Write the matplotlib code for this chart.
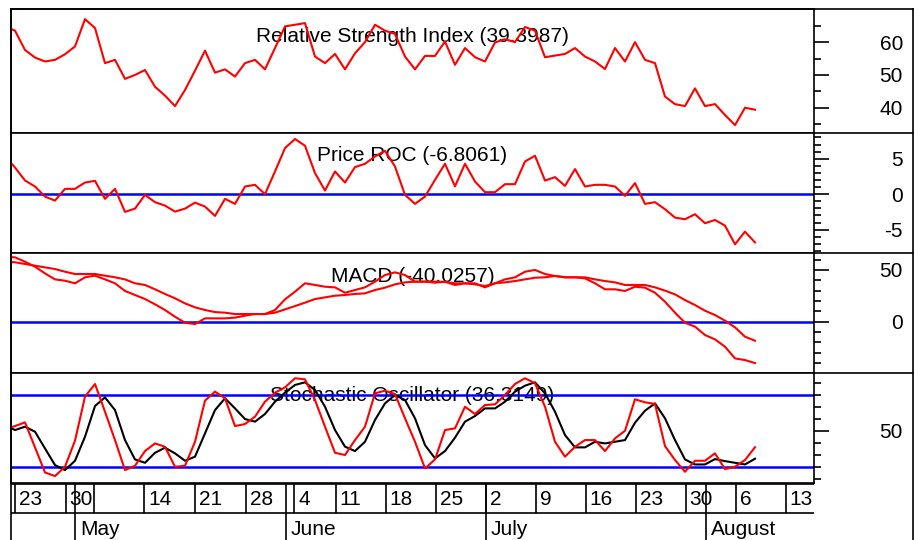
import numpy as np
import matplotlib
matplotlib.use("Agg")
import matplotlib.pyplot as plt
from matplotlib.lines import Line2D
from matplotlib.ticker import MultipleLocator, FixedLocator
from matplotlib.transforms import offset_copy

plt.rcParams['font.family'] = ['Liberation Sans', 'DejaVu Sans']
plt.rcParams['axes.unicode_minus'] = False

# trading-day index (first point sits just left of the plot edge)
days = np.arange(-1, 75)

rsi = [64.8, 63.5, 57.6, 55.3, 54.1, 54.6, 56.3, 58.7, 67.0, 64.3, 53.6, 54.6, 48.8, 50.0,
       51.5, 46.4, 43.7, 40.5, 45.4, 51.3, 57.4, 50.7, 51.7, 49.5, 53.6, 54.6, 51.7, 58.2,
       64.8, 65.3, 65.8, 55.6, 53.6, 56.4, 51.7, 56.6, 60.0, 65.3, 63.5, 62.5, 55.6, 51.7,
       55.8, 55.8, 60.2, 53.1, 58.2, 55.4, 54.1, 59.9, 60.9, 60.0, 64.6, 63.5, 55.4, 55.9,
       56.4, 58.2, 55.6, 54.1, 51.8, 58.2, 54.1, 60.0, 54.6, 53.6, 43.4, 41.1, 40.5, 45.9,
       40.5, 41.1, 37.8, 34.7, 40.0, 39.4]

roc = [5.35, 3.76, 1.93, 1.08, -0.34, -0.91, 0.75, 0.75, 1.64, 1.88, -0.66, 0.75, -2.5, -2.04,
       -0.1, -1.13, -1.61, -2.46, -2.04, -1.19, -1.75, -3.07, -0.66, -1.37, 1.08, 1.32, 0.0, 3.2,
       6.5, 7.78, 6.83, 2.97, 0.51, 3.2, 1.64, 3.82, 4.29, 5.32, 6.12, 3.9, -0.1, -1.37,
       -0.34, 2.02, 4.29, 1.1, 4.29, 1.78, 0.28, 0.28, 1.41, 1.41, 4.61, 5.42, 1.92, 2.4,
       1.17, 3.54, 1.08, 1.32, 1.32, 1.08, -0.24, 1.56, -1.37, -1.13, -2.12, -3.31, -3.54, -2.83,
       -4.1, -3.64, -4.44, -7.07, -5.29, -6.81]

macd = [62.8, 62.2, 58.0, 53.2, 46.7, 40.9, 39.6, 37.1, 42.9, 44.5, 40.9, 37.1, 29.7, 25.8,
        21.9, 16.8, 11.3, 4.8, -1.0, -2.3, 3.2, 3.2, 3.2, 3.9, 5.8, 7.4, 7.4, 11.3,
        21.6, 29.0, 37.1, 35.5, 33.8, 33.2, 28.0, 30.6, 33.2, 38.7, 45.1, 47.7, 45.1, 38.7,
        38.7, 37.7, 38.7, 35.5, 37.1, 37.1, 33.2, 37.1, 40.9, 42.9, 48.3, 50.0, 46.1, 44.2,
        42.9, 42.9, 41.9, 37.1, 31.3, 31.3, 29.7, 33.8, 32.9, 28.0, 19.3, 8.7, -1.0, -4.8,
        -12.9, -17.1, -24.2, -35.5, -37.1, -40.0]

signal = [58.0, 57.4, 55.8, 54.1, 52.5, 50.9, 48.3, 46.1, 46.1, 46.1, 44.5, 42.9, 40.9, 37.1,
          35.5, 31.3, 26.8, 22.6, 17.7, 13.9, 11.3, 9.3, 8.7, 7.4, 7.4, 7.4, 7.4, 8.7,
          11.9, 15.1, 18.4, 21.9, 23.5, 25.1, 25.8, 26.8, 27.4, 30.6, 32.9, 36.1, 38.0, 38.7,
          38.7, 38.7, 38.4, 37.1, 37.1, 36.1, 34.5, 37.1, 38.0, 39.3, 40.9, 42.5, 42.9, 44.2,
          42.9, 42.9, 42.9, 40.9, 39.3, 38.0, 35.5, 35.5, 35.5, 33.2, 30.0, 26.4, 20.9, 16.1,
          10.6, 6.4, 1.0, -5.5, -14.5, -18.4]

stoch_k = [51.2, 54.0, 57.1, 36.2, 15.2, 12.2, 20.0, 41.8, 78.6, 89.2, 66.0, 42.3, 17.2, 20.8,
           33.1, 39.5, 36.7, 20.0, 20.8, 40.9, 75.3, 82.8, 77.2, 54.0, 55.7, 61.9, 74.4, 81.9,
           86.4, 94.0, 93.1, 75.8, 53.5, 31.7, 29.8, 42.3, 53.5, 81.4, 83.6, 80.8, 60.5, 40.9,
           18.6, 26.1, 50.7, 52.1, 70.2, 64.1, 71.6, 72.2, 80.0, 89.2, 94.0, 89.8, 70.2, 40.9,
           28.4, 36.7, 42.3, 42.3, 33.1, 43.7, 50.1, 76.4, 73.9, 72.5, 37.3, 25.6, 15.8, 25.0,
           25.0, 31.2, 18.0, 20.0, 25.6, 36.3]

stoch_d = [54.9, 50.7, 53.5, 49.3, 35.3, 21.4, 17.2, 25.0, 45.1, 70.8, 78.0, 67.4, 42.3, 26.1,
           23.3, 31.7, 35.9, 31.2, 25.0, 28.4, 47.9, 67.4, 77.2, 68.8, 59.9, 57.7, 64.1, 74.4,
           82.0, 88.4, 90.6, 84.2, 70.2, 50.7, 36.8, 33.1, 40.9, 59.1, 73.0, 80.0, 75.8, 60.5,
           38.1, 27.0, 33.1, 44.3, 57.7, 62.4, 68.8, 68.8, 74.4, 82.8, 87.8, 90.6, 81.4, 66.0,
           46.5, 36.2, 36.2, 40.9, 39.5, 40.9, 42.3, 56.8, 66.9, 73.0, 60.5, 42.3, 26.1, 21.9,
           21.9, 26.4, 24.7, 23.3, 21.9, 26.7]

titles = ["Relative Strength Index (39.3987)", "Price ROC (-6.8061)",
          "MACD (-40.0257)", "Stochastic Oscillator (36.3149)"]

week_pos = [0, 5.07, 7.93, 12.93, 18, 23.07, 27.93, 32.07, 37.07, 42.07, 47.07,
            52.07, 57.07, 62.07, 67.07, 72.07, 77.07]
week_labels = ['23', '30', '', '14', '21', '28', '4', '11', '18', '25', '2', '9',
               '16', '23', '30', '6', '13']
month_pos = [6.0, 27.07, 47.07, 69.07]
month_labels = ['May', 'June', 'July', 'August']

W, H = 919, 540
fig = plt.figure(figsize=(W / 100, H / 100), dpi=100)
fig.patch.set_facecolor('white')

def rect(x0, y0, x1, y1):
    return [x0 / W, 1 - y1 / H, (x1 - x0) / W, (y1 - y0) / H]

XL, XR = 11, 814
xlim = (-0.4, 79.9)
bands = [(9, 133), (133, 253), (253, 373), (373, 483)]
ylims = [(32.3, 70.1), (-8.3, 8.63), (-49.6, 66.4), (6.4, 98.4)]
majors = [FixedLocator([40, 50, 60]), MultipleLocator(5), MultipleLocator(50), FixedLocator([50])]
minors = [FixedLocator([35, 45, 55, 65]), MultipleLocator(1), MultipleLocator(10), MultipleLocator(10)]
title_y = [0.736, 0.769, 0.761, 0.748]

RED = '#ff0000'
BLUE = '#0000ff'

axes = []
for k, (top, bot) in enumerate(bands):
    ax = fig.add_axes(rect(XL, top, XR, bot))
    ax.set_xlim(*xlim)
    ax.set_ylim(*ylims[k])
    ax.set_xticks([])
    ax.yaxis.tick_right()
    ax.yaxis.set_major_locator(majors[k])
    ax.yaxis.set_minor_locator(minors[k])
    ax.tick_params(axis='y', which='major', direction='out', length=10.8, width=1.2,
                   pad=53.3, labelsize=15, colors='black')
    ax.tick_params(axis='y', which='minor', direction='out', length=5, width=1.2)
    plt.setp(ax.get_yticklabels(), ha='right')
    for s in ax.spines.values():
        s.set_linewidth(1.2)
        s.set_color('black')
    ax.text(0.5, title_y[k], titles[k], transform=ax.transAxes, ha='center',
            va='baseline', fontsize=15, zorder=1)
    axes.append(ax)

ax_rsi, ax_roc, ax_macd, ax_sto = axes

ax_rsi.plot(days, rsi, color=RED, lw=1.5, zorder=3)

ax_roc.axhline(0, color=BLUE, lw=1.8, zorder=2)
ax_roc.plot(days, roc, color=RED, lw=1.5, zorder=3)

ax_macd.axhline(0, color=BLUE, lw=1.8, zorder=2)
ax_macd.plot(days, signal, color=RED, lw=1.5, zorder=3)
ax_macd.plot(days, macd, color=RED, lw=1.5, zorder=3)

ax_sto.axhline(80, color=BLUE, lw=1.8, zorder=2)
ax_sto.axhline(20, color=BLUE, lw=1.8, zorder=2)
ax_sto.plot(days, stoch_d, color='black', lw=1.5, zorder=3)
ax_sto.plot(days, stoch_k, color=RED, lw=1.5, zorder=3)

# date axis strip
ax_d = fig.add_axes(rect(XL, 483, XR, 540))
ax_d.set_xlim(*xlim)
ax_d.set_ylim(540, 483)
ax_d.axis('off')
ax_d.hlines([484, 513], xlim[0], xlim[1], color='black', lw=1.2)
ax_d.vlines(week_pos, 484, 513, color='black', lw=1.2)
ax_d.vlines(month_pos, 484, 540, color='black', lw=1.2)
day_tr = offset_copy(ax_d.transData, fig=fig, x=4, y=0, units='dots')
for p, lab in zip(week_pos, week_labels):
    ax_d.text(p, 505, lab, transform=day_tr, fontsize=15, ha='left', va='baseline',
              clip_on=True)
mon_tr = offset_copy(ax_d.transData, fig=fig, x=5, y=0, units='dots')
for p, lab in zip(month_pos, month_labels):
    ax_d.text(p, 535, lab, transform=mon_tr, fontsize=15, ha='left', va='baseline',
              clip_on=True)

# outer frame and right-hand separators
def fig_line(x0, y0, x1, y1):
    fig.add_artist(Line2D([x0 / W, x1 / W], [1 - y0 / H, 1 - y1 / H],
                          transform=fig.transFigure, color='black', lw=1.2))

fig_line(XL, 9, 913, 9)
fig_line(913, 9, 913, 540)
fig_line(XL, 9, XL, 540)
for y in (133, 253, 373):
    fig_line(XR, y, 913, y)

fig.savefig('out.png', dpi=100, facecolor='white')
